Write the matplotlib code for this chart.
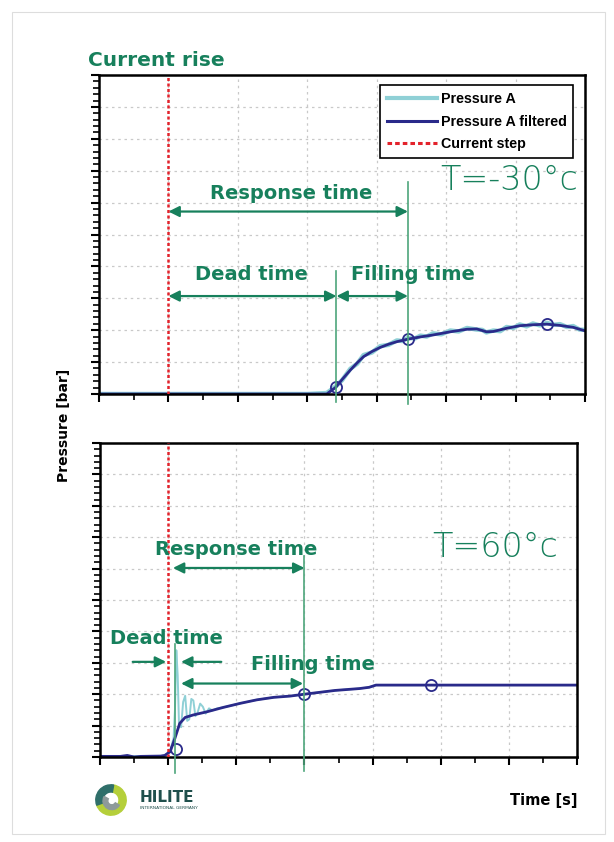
import matplotlib
matplotlib.use("Agg")
import matplotlib.pyplot as plt
from matplotlib.ticker import MultipleLocator, NullFormatter
from matplotlib.patches import Rectangle, Wedge
from matplotlib.lines import Line2D

# ---------------- data ----------------
# Top panel (T = -30 C)
top_t_filt = [0, 3.0, 3.28, 3.41, 3.5, 3.62, 3.72, 3.81, 3.93, 4.05, 4.17, 4.29, 4.45, 4.63, 4.81,
              5.06, 5.30, 5.44, 5.52, 5.58, 5.68, 5.87, 6.06, 6.25, 6.45, 6.64, 6.83, 7.0]
top_v_filt = [0, 0, 0, 0.21, 0.45, 0.75, 0.98, 1.17, 1.33, 1.46, 1.56, 1.64, 1.72, 1.79, 1.85,
              1.95, 2.03, 2.04, 1.99, 1.95, 1.96, 2.06, 2.14, 2.17, 2.19, 2.15, 2.09, 1.98]
top_t_raw = [0, 3.0, 3.28, 3.41, 3.5, 3.62, 3.72, 3.81, 3.93, 4.05, 4.17, 4.29, 4.37, 4.45, 4.55,
             4.63, 4.72, 4.81, 4.93, 5.06, 5.18, 5.30, 5.44, 5.52, 5.58, 5.68, 5.78, 5.87, 5.97,
             6.06, 6.16, 6.25, 6.35, 6.45, 6.55, 6.64, 6.74, 6.83, 6.92, 7.0]
top_v_raw = [0, 0, 0.03, 0.24, 0.43, 0.79, 0.95, 1.22, 1.30, 1.50, 1.54, 1.68, 1.66, 1.76, 1.74,
             1.83, 1.80, 1.90, 1.87, 1.99, 1.96, 2.07, 2.02, 2.01, 1.93, 1.99, 1.97, 2.10, 2.07,
             2.18, 2.12, 2.21, 2.15, 2.23, 2.17, 2.19, 2.10, 2.13, 2.02, 2.01]
top_marks_t = [3.41, 4.45, 6.45]
top_marks_v = [0.21, 1.72, 2.19]
top_step_t = 1.0
top_dead_end = 3.42
top_resp_end = 4.45

# Bottom panel (T = 60 C)
bot_t_filt = [0, 0.3, 0.4, 0.5, 0.6, 0.89, 0.95, 1.03, 1.10, 1.17, 1.25, 1.37, 1.57, 1.81, 2.06,
              2.30, 2.55, 2.79, 3.0, 3.45, 3.81, 3.95, 4.05, 7.0]
bot_v_filt = [0.02, 0.02, 0.05, 0.0, 0.02, 0.03, 0.05, 0.17, 0.6, 1.07, 1.26, 1.34, 1.44, 1.58, 1.71,
              1.82, 1.90, 1.94, 2.0, 2.12, 2.18, 2.22, 2.29, 2.29]
bot_t_raw = [0, 0.89, 0.95, 1.03, 1.08, 1.10, 1.12, 1.14, 1.16, 1.19, 1.22, 1.25, 1.28, 1.31, 1.34,
             1.37, 1.40, 1.43, 1.47, 1.51, 1.55, 1.60, 1.65, 1.72, 1.81, 2.06, 2.30, 2.55, 2.79,
             3.0, 3.45, 3.81, 3.95, 4.05, 7.0]
bot_v_raw = [0.02, 0.03, 0.05, 0.2, 0.6, 1.5, 3.4, 2.6, 1.0, 0.95, 1.75, 1.95, 1.15, 1.2, 1.85,
             1.8, 1.3, 1.4, 1.7, 1.6, 1.38, 1.55, 1.48, 1.55, 1.58, 1.71, 1.82, 1.90, 1.94,
             2.0, 2.12, 2.18, 2.22, 2.29, 2.29]
bot_marks_t = [1.11, 3.0, 4.86]
bot_marks_v = [0.25, 2.02, 2.29]
bot_step_t = 1.0
bot_dead_end = 1.10
bot_resp_end = 3.0

legend_labels = ["Pressure A", "Pressure A filtered", "Current step"]

# ---------------- style ----------------
GREEN = "#17805c"
VGREEN = "#4ea67c"
BLUE = "#2a2a8a"
CYAN = "#8fd0d6"
RED = "#e3222b"
GRID = "#c9c9c9"
TFONT = dict(family=["DejaVu Sans"], fontweight="bold", color=GREEN)

W, H = 614, 842
fig = plt.figure(figsize=(W / 100, H / 100), dpi=100)
fig.patch.set_facecolor("white")


def px_axes(x0, y0, x1, y1):
    return fig.add_axes([x0 / W, 1 - y1 / H, (x1 - x0) / W, (y1 - y0) / H])


def style_axes(ax):
    ax.set_xlim(0, 7)
    ax.set_ylim(0, 10)
    ax.xaxis.set_major_locator(MultipleLocator(1))
    ax.xaxis.set_minor_locator(MultipleLocator(0.5))
    ax.yaxis.set_major_locator(MultipleLocator(1))
    ax.yaxis.set_minor_locator(MultipleLocator(0.2))
    ax.xaxis.set_major_formatter(NullFormatter())
    ax.yaxis.set_major_formatter(NullFormatter())
    ax.tick_params(which="major", direction="out", length=6, width=1.5, colors="black")
    ax.tick_params(which="minor", direction="out", length=4, width=1.2, colors="black")
    ax.tick_params(top=False, right=False)
    ax.grid(True, which="major", color=GRID, linestyle=(0, (2, 3)), linewidth=0.9)
    for s in ax.spines.values():
        s.set_linewidth(1.8)


def vline(ax, x, y0, y1):
    ax.plot([x, x], [y0, y1], color=VGREEN, lw=1.2, clip_on=False, zorder=3)


def darrow(ax, x0, x1, y, style="<|-|>"):
    ax.annotate("", xy=(x1, y), xytext=(x0, y),
                arrowprops=dict(arrowstyle=style, color=GREEN, lw=1.6,
                                mutation_scale=16, shrinkA=0, shrinkB=0), zorder=4)


# ---------------- top panel ----------------
ax1 = px_axes(99, 75, 585, 394)
style_axes(ax1)
ax1.plot(top_t_raw, top_v_raw, color=CYAN, lw=3.2, zorder=2)
ax1.plot(top_t_filt, top_v_filt, color=BLUE, lw=2.0, zorder=2.2)
ax1.plot(top_marks_t, top_marks_v, "o", mfc="none", mec=BLUE, ms=8, mew=1.3, zorder=3)
ax1.axvline(top_step_t, color=RED, lw=1.8, linestyle=(0, (1.2, 1.0)), zorder=3)
vline(ax1, top_dead_end, -0.25, 3.85)
vline(ax1, top_resp_end, -0.3, 6.65)
darrow(ax1, top_step_t, top_resp_end, 5.72)
darrow(ax1, top_step_t, top_dead_end, 3.07)
darrow(ax1, top_dead_end, top_resp_end, 3.07)
ax1.text(2.77, 6.3, "Response time", ha="center", va="center", fontsize=14, **TFONT)
ax1.text(2.2, 3.74, "Dead time", ha="center", va="center", fontsize=14, **TFONT)
ax1.text(4.52, 3.74, "Filling time", ha="center", va="center", fontsize=14, **TFONT)
ax1.text(6.9, 6.7, "T=-30°c", ha="right", va="center", fontsize=24,
         family=["DejaVu Sans"], fontweight="light", color=GREEN)

h1 = Line2D([], [], color=CYAN, lw=3)
h2 = Line2D([], [], color=BLUE, lw=2.2)
h3 = Line2D([], [], color=RED, lw=2.2, linestyle=(0, (1.5, 1.0)))
leg = ax1.legend([h1, h2, h3], legend_labels, loc="upper right",
                 bbox_to_anchor=(0.976, 0.968), borderaxespad=0, fancybox=False,
                 framealpha=1, edgecolor="black", handlelength=3.5, handletextpad=0.3,
                 labelspacing=0.62, borderpad=0.45,
                 prop=dict(family="Liberation Sans", size=10.3, weight="bold"))
leg.get_frame().set_linewidth(1.2)

# ---------------- bottom panel ----------------
ax2 = px_axes(100, 443, 577, 757)
style_axes(ax2)
ax2.plot(bot_t_raw, bot_v_raw, color=CYAN, lw=1.4, zorder=2)
ax2.plot(bot_t_filt, bot_v_filt, color=BLUE, lw=2.0, zorder=2.2)
ax2.plot(bot_marks_t, bot_marks_v, "o", mfc="none", mec=BLUE, ms=8, mew=1.3, zorder=3)
ax2.axvline(bot_step_t, color=RED, lw=1.8, linestyle=(0, (1.2, 1.0)), zorder=3)
vline(ax2, bot_dead_end, -0.5, 3.6)
vline(ax2, bot_resp_end, -0.45, 6.4)
darrow(ax2, 1.07, bot_resp_end, 6.02)
darrow(ax2, 0.48, 0.97, 3.03, style="-|>")
darrow(ax2, 1.78, 1.19, 3.03, style="-|>")
darrow(ax2, 1.19, 2.98, 2.34)
ax2.text(2.0, 6.6, "Response time", ha="center", va="center", fontsize=14, **TFONT)
ax2.text(0.97, 3.76, "Dead time", ha="center", va="center", fontsize=14, **TFONT)
ax2.text(3.12, 2.96, "Filling time", ha="center", va="center", fontsize=14, **TFONT)
ax2.text(6.72, 6.67, "T=60°c", ha="right", va="center", fontsize=24,
         family=["DejaVu Sans"], fontweight="light", color=GREEN)

# ---------------- figure-level texts ----------------
fig.text(88 / W, 1 - 60 / H, "Current rise", ha="left", va="center", fontsize=14.5, **TFONT)
fig.text(64 / W, 1 - 425 / H, "Pressure [bar]", rotation=90, ha="center", va="center",
         fontsize=10, fontweight="bold", family="DejaVu Sans")
fig.text(578 / W, 1 - 800 / H, "Time [s]", ha="right", va="center",
         fontsize=10.5, fontweight="bold", family="DejaVu Sans")

# logo
lax = fig.add_axes([95 / W, 1 - 816 / H, 32 / W, 32 / H])
lax.set_xlim(-1, 1)
lax.set_ylim(-1, 1)
lax.set_aspect("equal")
lax.axis("off")
lax.add_patch(Wedge((0, 0), 0.95, 200, 80, width=0.45, color="#b5cf3a"))
lax.add_patch(Wedge((0, 0), 0.95, 80, 200, width=0.45, color="#2f6f6a"))
lax.add_patch(Wedge((0.05, -0.05), 0.55, 150, 330, width=0.3, color="#8e9a9a"))
fig.text(140 / W, 1 - 798 / H, "HILITE", ha="left", va="center", fontsize=11,
         fontweight="heavy", family="DejaVu Sans", color="#1f4f4c")
fig.text(140 / W, 1 - 808 / H, "INTERNATIONAL GERMANY", ha="left", va="center",
         fontsize=3.2, family="DejaVu Sans", color="#1f4f4c")

# light outer frame
fig.patches.append(Rectangle((12 / W, 8 / H), (605 - 12) / W, (830 - 8) / H,
                             transform=fig.transFigure, fill=False,
                             edgecolor="#dddddd", lw=0.8))

fig.savefig("out.png", dpi=100)
